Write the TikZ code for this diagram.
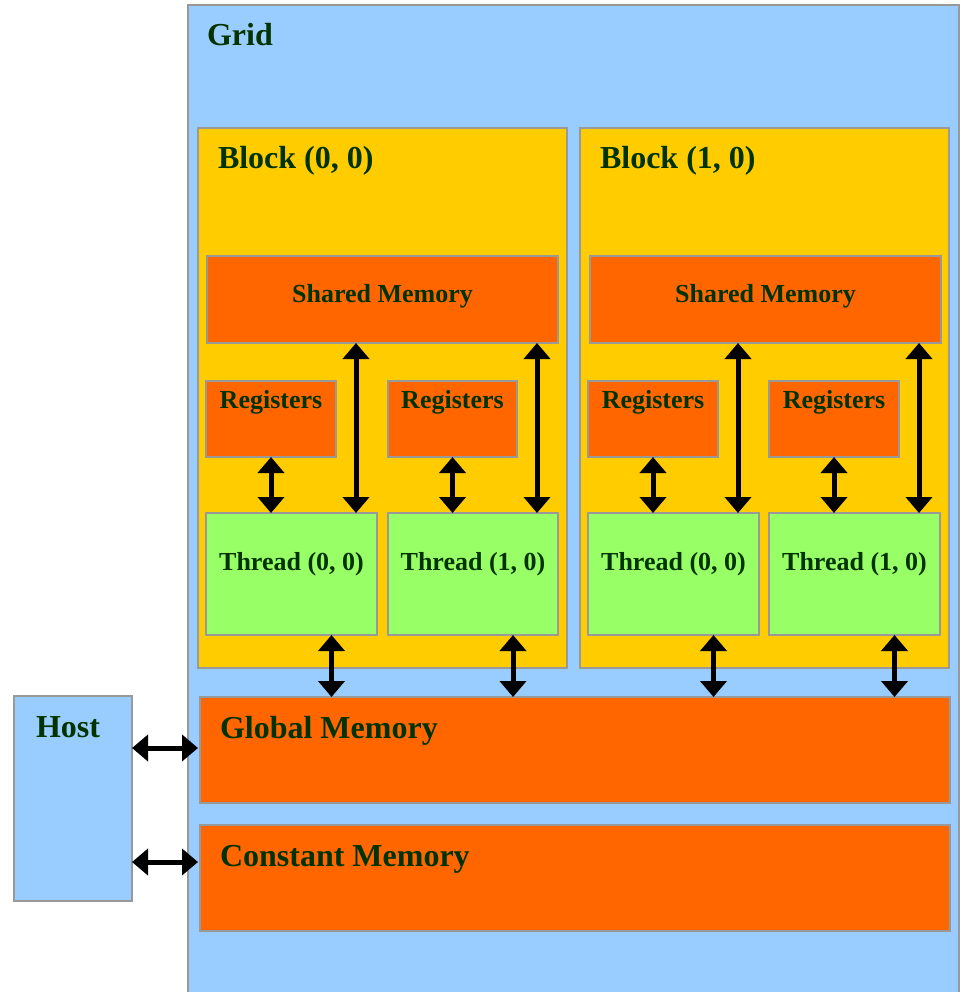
\documentclass[tikz,border=0pt]{standalone}
\usepackage{fontspec}
\setmainfont{Liberation Serif}
\usetikzlibrary{arrows.meta,calc}
\definecolor{gridblue}{HTML}{99CCFF}
\definecolor{blockyellow}{HTML}{FFCC00}
\definecolor{memorange}{HTML}{FF6600}
\definecolor{threadgreen}{HTML}{99FF66}
\definecolor{edgegray}{HTML}{999999}
\definecolor{txtgreen}{HTML}{003300}
\newcommand\Lfont{\fontsize{32}{38}\selectfont\bfseries}
\newcommand\Sfont{\fontsize{26}{31}\selectfont\bfseries}
\tikzset{
  box/.style={draw=edgegray, line width=2pt, inner sep=0pt, outer sep=0pt, rectangle, anchor=north west},
  gridbox/.style={box, fill=gridblue},
  blockbox/.style={box, fill=blockyellow},
  membox/.style={box, fill=memorange},
  threadbox/.style={box, fill=threadgreen},
  ltxt/.style={inner sep=0pt, outer sep=0pt, text=txtgreen, font=\Lfont, anchor=base west},
  stxt/.style={inner sep=0pt, outer sep=0pt, text=txtgreen, font=\Sfont, anchor=base},
  arr/.style={{Triangle[length=16pt,width=26pt]}-{Triangle[length=16pt,width=26pt]}, line width=5pt, black},
}
\begin{document}
\begin{tikzpicture}[x=1pt,y=-1pt]
\useasboundingbox (0,0) rectangle (961,992);
% grid and host
\node[gridbox, minimum width=771pt, minimum height=1000pt] (grid) at (188,5) {};
\node[gridbox, minimum width=118pt, minimum height=205pt] (host) at (14,696) {};
% blocks
\node[blockbox, minimum width=369pt, minimum height=540pt] (blk0) at (198,128) {};
\node[blockbox, minimum width=369pt, minimum height=540pt] (blk1) at (580,128) {};
% shared memories
\node[membox, minimum width=351pt, minimum height=87pt] (sm0) at (207,256) {};
\node[membox, minimum width=351pt, minimum height=87pt] (sm1) at (590,256) {};
% registers
\node[membox, minimum width=130pt, minimum height=76pt] (reg00) at (206,381) {};
\node[membox, minimum width=129pt, minimum height=76pt] (reg01) at (388,381) {};
\node[membox, minimum width=130pt, minimum height=76pt] (reg10) at (588,381) {};
\node[membox, minimum width=130pt, minimum height=76pt] (reg11) at (769,381) {};
% threads
\node[threadbox, minimum width=171pt, minimum height=122pt] (th00) at (206,513) {};
\node[threadbox, minimum width=170pt, minimum height=122pt] (th01) at (388,513) {};
\node[threadbox, minimum width=171pt, minimum height=122pt] (th10) at (588,513) {};
\node[threadbox, minimum width=171pt, minimum height=122pt] (th11) at (769,513) {};
% global and constant memory
\node[membox, minimum width=750pt, minimum height=106pt] (gm) at (200,697) {};
\node[membox, minimum width=750pt, minimum height=106pt] (cm) at (200,825) {};
% texts
\node[ltxt] (tgrid) at (207,46) {Grid};
\node[ltxt] (tblk0) at (218,169) {Block (0, 0)};
\node[ltxt] (tblk1) at (600,169) {Block (1, 0)};
\node[ltxt] (tgm) at (220,738) {Global Memory};
\node[ltxt] (tcm) at (220,866) {Constant Memory};
\node[ltxt] (thost) at (36,737) {Host};
\node[stxt] (tsm0) at (sm0.center |- 0,302) {Shared Memory};
\node[stxt] (tsm1) at (sm1.center |- 0,302) {Shared Memory};
\foreach \n in {reg00,reg01,reg10,reg11}{
  \node[stxt] (t\n) at (\n.center |- 0,408) {Registers};
}
\node[stxt] (tth00) at (th00.center |- 0,570) {Thread (0, 0)};
\node[stxt] (tth01) at (th01.center |- 0,570) {Thread (1, 0)};
\node[stxt] (tth10) at (th10.center |- 0,570) {Thread (0, 0)};
\node[stxt] (tth11) at (th11.center |- 0,570) {Thread (1, 0)};
% register <-> thread arrows
\foreach \r/\t in {reg00/th00,reg01/th01,reg10/th10,reg11/th11}{
  \draw[arr] (\r.south) -- (\r.south |- \t.north);
}
% shared memory <-> thread arrows
\foreach \s/\t in {sm0/th00,sm0/th01,sm1/th10,sm1/th11}{
  \coordinate (c\t) at ([xshift=-21pt]\t.north east);
  \draw[arr] (c\t |- \s.south) -- (c\t);
}
% thread <-> global memory arrows
\foreach \t in {th00,th01,th10,th11}{
  \coordinate (g\t) at ([xshift=40pt]\t.south);
  \draw[arr] (g\t) -- (g\t |- gm.north);
}
% host arrows
\coordinate (hA) at (0,748);
\coordinate (hB) at (0,862);
\draw[arr] (host.east |- hA) -- ([xshift=-2pt]gm.west |- hA);
\draw[arr] (host.east |- hB) -- ([xshift=-2pt]cm.west |- hB);
\end{tikzpicture}
\end{document}
